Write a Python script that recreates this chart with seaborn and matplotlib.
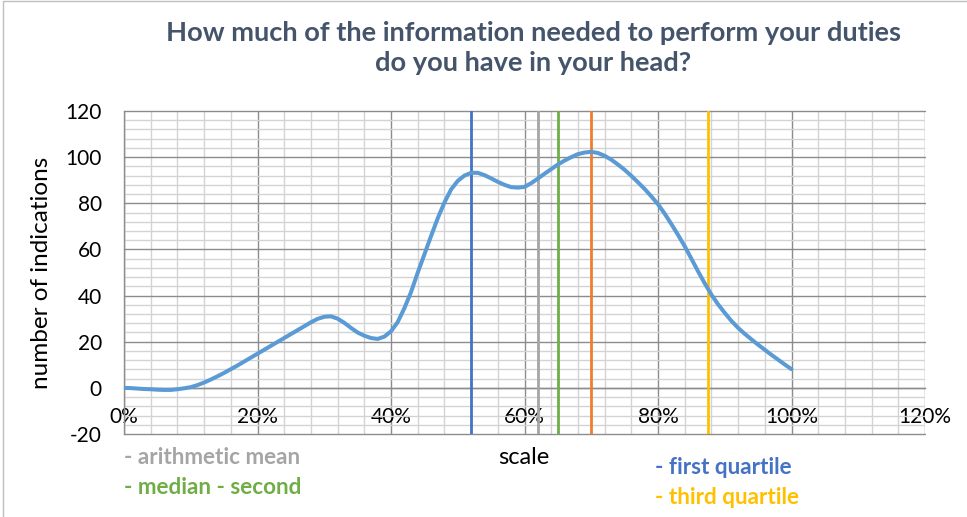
import matplotlib
matplotlib.use("Agg")
import matplotlib.pyplot as plt
import matplotlib.ticker as mticker
import matplotlib.patches as mpatches
import seaborn as sns
import pandas as pd

# ---- data ----
scale_pct = [0, 1, 2, 3, 4, 5, 6, 7, 8, 9, 10, 11, 12, 13, 14, 15, 16, 17, 18, 19,
             20, 21, 22, 23, 24, 25, 26, 27, 28, 29, 30, 31, 32, 33, 34, 35, 36, 37, 38, 39,
             40, 41, 42, 43, 44, 45, 46, 47, 48, 49, 50, 51, 52, 53, 54, 55, 56, 57, 58, 59,
             60, 61, 62, 63, 64, 65, 66, 67, 68, 69, 70, 71, 72, 73, 74, 75, 76, 77, 78, 79,
             80, 81, 82, 83, 84, 85, 86, 87, 88, 89, 90, 91, 92, 93, 94, 95, 96, 97, 98, 99,
             100]
indications = [0.0, -0.1, -0.3, -0.5, -0.6, -0.8, -0.9, -0.9, -0.6, -0.2,
               0.3, 1.2, 2.3, 3.6, 5.0, 6.5, 8.1, 9.7, 11.4, 13.1,
               14.8, 16.5, 18.2, 19.9, 21.6, 23.3, 25.0, 26.7, 28.4, 29.9,
               30.8, 31.0, 30.0, 28.2, 26.0, 24.0, 22.6, 21.6, 21.2, 22.2,
               24.5, 28.5, 34.5, 41.5, 49.9, 57.8, 65.8, 73.5, 80.3, 86.0,
               89.7, 92.0, 93.2, 93.2, 92.2, 90.8, 89.3, 88.0, 87.0, 86.8,
               87.1, 88.7, 90.7, 92.8, 94.8, 96.8, 98.5, 100.0, 101.3, 102.0,
               102.3, 101.8, 100.6, 98.9, 96.8, 94.5, 91.9, 89.1, 86.2, 83.0,
               79.6, 75.5, 71.0, 66.3, 61.4, 56.0, 50.5, 45.3, 40.4, 36.2,
               32.5, 29.0, 26.0, 23.4, 21.0, 18.7, 16.5, 14.3, 12.2, 10.1,
               8.1]

stat_names = ["first quartile", "arithmetic mean", "median - second", "mode", "third quartile"]
stat_values = [0.52, 0.62, 0.65, 0.70, 0.875]
stat_colors = ["#4472C4", "#A5A5A5", "#70AD47", "#ED7D31", "#FFC000"]

title_text = "How much of the information needed to perform your duties\ndo you have in your head?"
x_label = "scale"
y_label = "number of indications"
x_ticks = [0, 0.2, 0.4, 0.6, 0.8, 1.0, 1.2]
y_ticks = [-20, 0, 20, 40, 60, 80, 100, 120]

legend_left = ["- arithmetic mean", "- median - second"]
legend_left_colors = ["#A5A5A5", "#70AD47"]
legend_right = ["- first quartile", "- third quartile"]
legend_right_colors = ["#4472C4", "#FFC000"]

df = pd.DataFrame({"scale": [p / 100 for p in scale_pct], "count": indications})

# ---- style ----
sns.set_style("white")
plt.rcParams["font.family"] = ["Lato", "DejaVu Sans"]
plt.rcParams["axes.unicode_minus"] = False

MAJOR = "#8C8C8C"
MINOR = "#D3D3D3"

fig = plt.figure(figsize=(9.67, 5.17), dpi=100)
ax = fig.add_axes([124 / 967, 1 - 434 / 517, (925 - 124) / 967, (434 - 111) / 517])

ax.set_xlim(0, 1.2)
ax.set_ylim(-20, 120)

for v, c in zip(stat_values, stat_colors):
    ax.axvline(v, color=c, lw=2.0, zorder=3)

sns.lineplot(data=df, x="scale", y="count", ax=ax, color="#5B9BD5", lw=2.9,
             zorder=4, legend=False)
for ln in ax.get_lines():
    ln.set_solid_joinstyle("round")
    ln.set_solid_capstyle("round")

ax.set_xticks(x_ticks)
ax.set_yticks(y_ticks)
ax.xaxis.set_minor_locator(mticker.MultipleLocator(0.04))
ax.yaxis.set_minor_locator(mticker.MultipleLocator(4))
ax.xaxis.set_major_formatter(mticker.FuncFormatter(lambda v, p: f"{v*100:.0f}%"))

ax.grid(True, which="minor", color=MINOR, lw=1.0, zorder=0)
ax.grid(True, which="major", color=MAJOR, lw=1.0, zorder=1)
for gl in ax.get_xgridlines() + ax.get_ygridlines():
    gl.set_clip_on(False)
ax.set_axisbelow(True)

ax.spines["bottom"].set_position(("data", 0))
for s in ax.spines.values():
    s.set_color(MAJOR)
    s.set_linewidth(1.0)
ax.spines["top"].set_visible(False)
ax.spines["right"].set_visible(False)

ax.tick_params(axis="both", which="both", length=0, labelsize=15, labelcolor="black")
ax.tick_params(axis="x", pad=14)
ax.tick_params(axis="y", pad=16)

ax.set_xlabel("")
ax.set_ylabel("")

# axis titles
fig.text(524 / 967, 1 - 457 / 517, x_label, ha="center", va="center", fontsize=17, color="black")
fig.text(42 / 967, 1 - 273 / 517, y_label, ha="center", va="center", rotation=90,
         fontsize=17.5, color="black")

# title
fig.text(533 / 967, 1 - 48 / 517, title_text, ha="center", va="center", fontsize=19.6,
         fontweight="bold", color="#44546A", linespacing=1.3)

# legend-like texts
for i, (t, c) in enumerate(zip(legend_left, legend_left_colors)):
    fig.text(124 / 967, 1 - (458 + 29 * i) / 517, t, ha="left", va="center",
             fontsize=16.2, fontweight="bold", color=c)
for i, (t, c) in enumerate(zip(legend_right, legend_right_colors)):
    fig.text(655 / 967, 1 - (468 + 29 * i) / 517, t, ha="left", va="center",
             fontsize=16.2, fontweight="bold", color=c)

# outer chart-area border (left and top edges visible)
fig.add_artist(mpatches.Rectangle((3 / 967, -0.5), 2.0, 1.5 - 1 / 517,
                                  transform=fig.transFigure, fill=False,
                                  edgecolor="#BFBFBF", lw=1.0))

fig.savefig("out.png", dpi=100)
